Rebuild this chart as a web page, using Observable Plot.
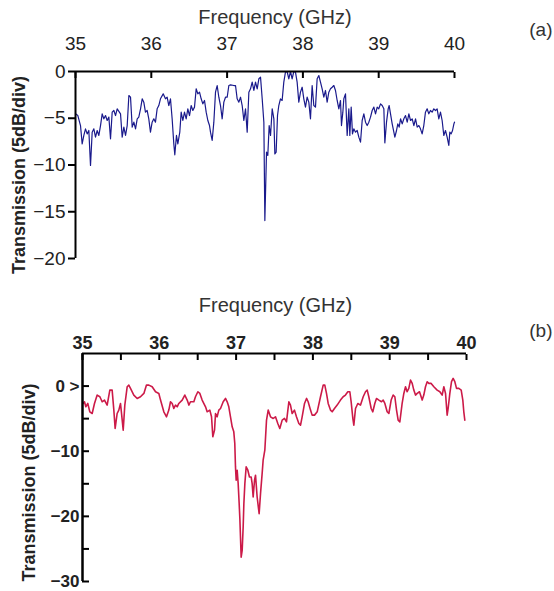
<!DOCTYPE html>
<html><head><meta charset="utf-8">
<script src="https://cdn.jsdelivr.net/npm/d3@7"></script>
<script src="https://cdn.jsdelivr.net/npm/@observablehq/plot@0.6"></script>
<style>
body{margin:0;background:#fff;}
#wrap{position:relative;width:554px;height:591px;}
#wrap svg{position:absolute;left:0;overflow:visible;}
</style></head><body><div id="wrap"></div>
<script>
// Panel (a): measured transmission, frequency in GHz, transmission in dB
const freqA=[35.000,35.031,35.066,35.088,35.110,35.132,35.154,35.176,35.198,35.220,35.242,35.264,35.286,35.308,35.330,35.352,35.374,35.396,35.418,35.440,35.462,35.484,35.506,35.528,35.550,35.594,35.616,35.638,35.660,35.682,35.704,35.726,35.748,35.770,35.792,35.814,35.835,35.858,35.880,35.901,35.923,35.945,35.967,35.989,36.011,36.033,36.055,36.077,36.099,36.121,36.157,36.187,36.209,36.231,36.253,36.275,36.297,36.310,36.332,36.350,36.376,36.394,36.416,36.438,36.460,36.482,36.504,36.526,36.548,36.570,36.592,36.614,36.636,36.658,36.680,36.702,36.724,36.746,36.768,36.781,36.803,36.825,36.847,36.869,36.891,36.913,36.935,36.957,36.979,37.001,37.023,37.045,37.089,37.111,37.133,37.155,37.177,37.199,37.221,37.243,37.265,37.287,37.309,37.331,37.353,37.375,37.397,37.419,37.441,37.463,37.485,37.498,37.520,37.537,37.555,37.573,37.595,37.617,37.630,37.647,37.665,37.682,37.704,37.726,37.748,37.770,37.792,37.814,37.836,37.858,37.880,37.902,37.924,37.946,37.968,37.990,38.012,38.034,38.056,38.078,38.100,38.122,38.144,38.166,38.188,38.210,38.232,38.254,38.276,38.298,38.320,38.342,38.364,38.386,38.408,38.430,38.452,38.474,38.496,38.509,38.527,38.540,38.562,38.584,38.606,38.619,38.637,38.654,38.672,38.694,38.716,38.738,38.760,38.782,38.804,38.826,38.848,38.870,38.892,38.914,38.936,38.958,38.980,39.001,39.024,39.046,39.068,39.081,39.103,39.125,39.138,39.156,39.178,39.200,39.213,39.235,39.252,39.270,39.288,39.310,39.332,39.354,39.376,39.398,39.420,39.442,39.464,39.486,39.508,39.530,39.551,39.573,39.595,39.617,39.639,39.661,39.683,39.705,39.727,39.749,39.771,39.793,39.815,39.837,39.859,39.881,39.903,39.925,39.938,39.956,39.974,39.992,40.000];
const transA=[-4.53,-4.71,-5.78,-7.74,-6.84,-6.13,-6.67,-6.31,-10.05,-6.49,-6.13,-7.02,-6.31,-6.84,-5.78,-4.53,-5.06,-4.71,-5.24,-4.88,-7.20,-4.35,-4.17,-4.71,-3.99,-4.53,-7.02,-5.95,-6.84,-5.78,-2.57,-2.75,-5.95,-5.42,-6.13,-5.06,-4.88,-3.99,-2.92,-3.28,-4.35,-4.17,-5.06,-6.49,-5.42,-5.06,-5.42,-3.99,-3.64,-2.92,-2.39,-2.92,-2.75,-3.64,-2.92,-5.06,-7.74,-8.91,-6.84,-7.74,-6.49,-4.35,-5.24,-4.35,-5.06,-3.99,-4.71,-3.64,-4.17,-3.81,-1.85,-2.39,-2.21,-2.92,-3.46,-3.10,-4.35,-5.24,-5.78,-6.49,-7.38,-5.42,-2.21,-1.50,-2.75,-3.64,-5.06,-3.28,-2.75,-2.75,-1.50,-1.43,-1.50,-1.50,-2.92,-3.28,-2.75,-3.64,-5.24,-3.99,-6.49,-2.21,-1.85,-1.14,-2.03,-1.14,-1.85,-0.78,-0.61,-2.92,-5.42,-15.94,-8.63,-8.98,-5.78,-6.84,-3.99,-5.06,-8.81,-8.63,-4.71,-3.64,-2.92,-3.10,-1.14,-0.07,0,-0.78,0,-0.78,0,-0.07,-1.14,-3.28,-2.21,-1.68,-2.92,-3.81,-2.75,-3.28,-5.06,-1.50,-3.64,-3.81,-0.78,-0.43,-1.14,-1.85,-2.75,-2.03,-3.28,-2.21,-1.85,-1.68,-1.50,-2.03,-3.10,-3.99,-3.10,-5.78,-4.35,-2.92,-2.39,-6.84,-3.99,-6.84,-3.81,-6.67,-6.13,-6.49,-6.31,-7.02,-7.56,-5.24,-4.53,-5.42,-5.78,-5.42,-4.88,-4.17,-3.81,-4.53,-3.81,-3.99,-3.46,-3.64,-3.99,-7.63,-5.42,-3.99,-3.64,-4.53,-5.60,-6.49,-7.02,-6.31,-5.60,-5.95,-5.06,-5.60,-5.06,-4.71,-5.42,-4.53,-5.24,-5.06,-5.78,-5.06,-5.95,-5.78,-6.13,-6.67,-5.78,-4.35,-3.99,-4.53,-4.17,-4.35,-3.99,-4.17,-3.99,-5.06,-4.35,-5.24,-6.84,-6.31,-7.02,-7.91,-6.49,-6.67,-6.31,-5.60,-5.42];

// Panel (b)
const freqB=[35.009,35.026,35.043,35.069,35.095,35.126,35.156,35.191,35.226,35.256,35.286,35.321,35.356,35.386,35.408,35.425,35.451,35.473,35.495,35.517,35.530,35.551,35.582,35.603,35.625,35.668,35.712,35.755,35.799,35.833,35.864,35.907,35.951,35.994,36.016,36.059,36.094,36.124,36.146,36.168,36.189,36.211,36.233,36.254,36.298,36.332,36.363,36.385,36.406,36.450,36.471,36.502,36.528,36.558,36.602,36.623,36.658,36.680,36.697,36.719,36.732,36.753,36.775,36.797,36.832,36.862,36.884,36.905,36.927,36.949,36.970,36.983,36.992,37.001,37.014,37.027,37.040,37.049,37.066,37.079,37.092,37.101,37.114,37.131,37.153,37.174,37.196,37.209,37.222,37.240,37.253,37.274,37.300,37.318,37.339,37.352,37.374,37.396,37.418,37.448,37.483,37.513,37.543,37.569,37.600,37.630,37.656,37.687,37.708,37.730,37.760,37.786,37.817,37.839,37.860,37.891,37.917,37.938,37.969,37.990,38.021,38.056,38.099,38.134,38.155,38.177,38.199,38.229,38.251,38.281,38.316,38.359,38.394,38.424,38.455,38.481,38.498,38.520,38.533,38.555,38.585,38.620,38.655,38.685,38.707,38.728,38.759,38.780,38.806,38.828,38.859,38.893,38.915,38.937,38.967,38.989,39.019,39.045,39.067,39.089,39.110,39.132,39.162,39.184,39.206,39.227,39.249,39.271,39.293,39.314,39.336,39.358,39.388,39.423,39.444,39.466,39.488,39.510,39.540,39.575,39.618,39.653,39.683,39.705,39.727,39.748,39.761,39.783,39.805,39.826,39.848,39.870,39.900,39.931,39.952,39.965,39.978];
const transB=[-2.67,-2.41,-3.18,-2.67,-3.95,-4.21,-2.67,-1.38,-1.64,-2.41,-2.15,-2.92,-0.62,-0.62,-3.69,-6.51,-4.21,-3.69,-2.67,-5.23,-6.77,-2.92,-0.10,0.15,-0.36,-1.38,-1.90,-1.64,-1.13,0.15,0.15,-0.10,-0.87,-1.13,-2.15,-3.95,-4.72,-3.69,-2.41,-2.67,-3.44,-2.92,-3.18,-2.67,-2.15,-1.38,-2.15,-2.92,-2.41,-2.41,-1.64,-0.87,-1.13,-2.15,-3.18,-3.95,-3.69,-4.72,-7.79,-6.77,-4.21,-4.72,-3.69,-3.44,-2.41,-1.90,-2.41,-3.18,-4.72,-6.26,-7.03,-8.82,-12.41,-14.46,-12.92,-14.97,-18.05,-20.36,-26.26,-25.23,-21.64,-18.05,-14.97,-12.41,-12.92,-13.95,-13.95,-14.97,-17.03,-14.46,-13.69,-17.03,-19.59,-16.51,-13.44,-11.38,-9.85,-5.23,-3.69,-4.72,-4.97,-4.72,-5.74,-6.51,-5.23,-4.97,-5.49,-2.41,-2.92,-4.21,-3.69,-4.72,-5.74,-6.00,-4.72,-2.67,-1.90,-2.41,-3.69,-4.46,-4.46,-3.95,-1.64,0.15,0.15,-1.13,-2.67,-3.69,-3.95,-3.44,-2.92,-2.15,-1.64,-1.38,-0.87,-0.87,-2.41,-4.97,-6.00,-3.44,-2.67,-2.92,-1.64,-0.87,-0.62,-1.64,-3.44,-3.95,-2.67,-1.90,-2.15,-2.41,-2.15,-2.67,-3.95,-4.21,-2.15,-1.38,-1.64,-3.69,-5.23,-5.49,-2.67,-1.13,-0.10,-0.87,-0.36,0.92,0.41,-0.62,-1.38,-1.13,-0.87,-2.15,-1.38,-0.10,0.67,0.41,0.41,-0.10,-0.62,-0.87,-1.38,-0.10,-1.13,-4.46,-3.44,-1.13,0.67,1.18,0.67,-0.36,-0.36,-0.62,-2.15,-3.95,-5.23];

const xTicksA=[35,36,37,38,39,40];
const yTicksA=[0,-5,-10,-15,-20];
const xLabelsB=[35,36,37,38,39,40];
const xTicksB=[35,35.5,36,36.5,37,37.5,38,38.5,39,39.5,40];
const yLabelsB=[0,-10,-20,-30];
const yTicksB=[0,-5,-10,-15,-20,-25,-30];

const titleX="Frequency (GHz)";
const titleY="Transmission (5dB/div)";

const dataA=freqA.map((f,i)=>({f,t:transA[i]}));
const dataB=freqB.map((f,i)=>({f,t:transB[i]}));
const font='"Liberation Sans", Arial, Helvetica, sans-serif';
const fmt=d3.format("");

const plotA=Plot.plot({
  width:554,height:290,
  marginTop:71,marginLeft:75,marginRight:100,marginBottom:32,
  style:{fontFamily:font,fontSize:"19px",color:"#000",background:"transparent"},
  x:{domain:[35,40]},
  y:{domain:[-20,0]},
  marks:[
    Plot.line(dataA,{x:"f",y:"t",stroke:"#1a1a8c",strokeWidth:1.2}),
    Plot.ruleY([0],{stroke:"#000",strokeWidth:2}),
    Plot.ruleX([35],{stroke:"#000",strokeWidth:2}),
    Plot.axisX(xTicksA,{anchor:"top",tickSize:-6,strokeWidth:2,fill:"none",label:null}),
    Plot.axisX(xTicksA,{anchor:"top",tickSize:0,tickPadding:22,label:null,fill:"#222",fontSize:19}),
    Plot.axisY(yTicksA,{anchor:"left",tickSize:7,strokeWidth:2,tickPadding:3,label:null,fill:"#222",fontSize:19}),
    Plot.text([titleX],{text:d=>d,frameAnchor:"top",lineAnchor:"middle",dx:10,dy:-54,fontSize:20,fill:"#333"}),
    Plot.text(["(a)"],{text:d=>d,frameAnchor:"top-right",lineAnchor:"middle",dx:98,dy:-42,textAnchor:"end",fontSize:19,fill:"#333"}),
    Plot.text([titleY],{text:d=>d,frameAnchor:"left",textAnchor:"middle",lineAnchor:"middle",dx:-56,dy:10,rotate:-90,fontSize:18,fontWeight:"bold",fill:"#222"})
  ]
});

const plotB=Plot.plot({
  width:554,height:301,
  marginTop:63,marginLeft:82,marginRight:88,marginBottom:10,
  style:{fontFamily:font,fontSize:"18px",color:"#000",background:"transparent"},
  x:{domain:[35,40]},
  y:{domain:[-30,5]},
  marks:[
    Plot.line(dataB,{x:"f",y:"t",stroke:"#cc1a48",strokeWidth:1.6}),
    Plot.ruleY([5],{stroke:"#000",strokeWidth:2}),
    Plot.ruleX([35],{stroke:"#000",strokeWidth:2.5}),
    Plot.axisX(xTicksB,{anchor:"top",tickSize:-6,strokeWidth:2,fill:"none",label:null}),
    Plot.axisX(xLabelsB,{anchor:"top",tickSize:0,tickPadding:5,label:null,fill:"#222",fontSize:18,fontWeight:"bold"}),
    Plot.axisY(yTicksB,{anchor:"left",tickSize:-7,strokeWidth:2,fill:"none",label:null}),
    Plot.axisY(yLabelsB,{anchor:"left",tickSize:0,tickPadding:3,label:null,fill:"#222",fontSize:17,fontWeight:"bold",tickFormat:d=>d===0?"0 >":fmt(d)}),
    Plot.text([titleX],{text:d=>d,frameAnchor:"top",lineAnchor:"middle",dx:1,dy:-48,fontSize:20,fill:"#333"}),
    Plot.text(["(b)"],{text:d=>d,frameAnchor:"top-right",lineAnchor:"middle",dx:86,dy:-23,textAnchor:"end",fontSize:19,fill:"#333"}),
    Plot.text([titleY],{text:d=>d,frameAnchor:"left",textAnchor:"middle",lineAnchor:"middle",dx:-53,dy:15,rotate:-90,fontSize:18,fontWeight:"bold",fill:"#222"})
  ]
});

const wrap=document.getElementById("wrap");
plotA.style.top="0px";
plotB.style.top="290px";
wrap.appendChild(plotA);
wrap.appendChild(plotB);
</script></body></html>
